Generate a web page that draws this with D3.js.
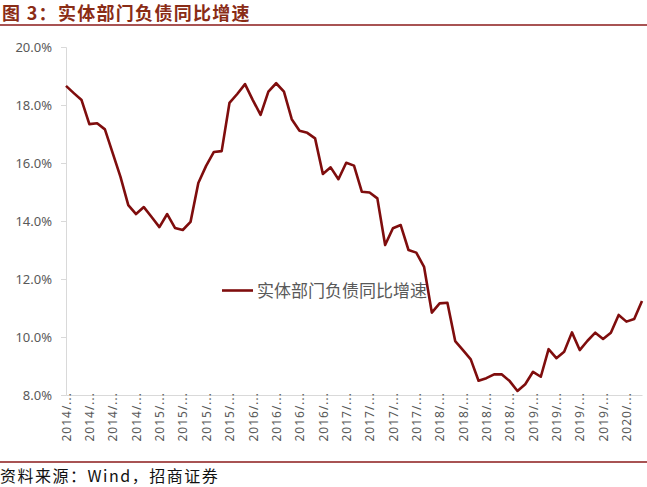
<!DOCTYPE html>
<html>
<head>
<meta charset="utf-8">
<script src="https://cdn.jsdelivr.net/npm/d3@7"></script>
<style>
  body { margin: 0; background: #fff; }
  svg { display: block; }
</style>
</head>
<body>
<svg id="chart" width="647" height="487"></svg>
<script>
const titleText = "图 3：实体部门负债同比增速";
const sourceText = "资料来源：Wind，招商证券";
const seriesName = "实体部门负债同比增速";

const months = [
  "2014/01","2014/02","2014/03","2014/04","2014/05","2014/06","2014/07","2014/08","2014/09","2014/10","2014/11","2014/12",
  "2015/01","2015/02","2015/03","2015/04","2015/05","2015/06","2015/07","2015/08","2015/09","2015/10","2015/11","2015/12",
  "2016/01","2016/02","2016/03","2016/04","2016/05","2016/06","2016/07","2016/08","2016/09","2016/10","2016/11","2016/12",
  "2017/01","2017/02","2017/03","2017/04","2017/05","2017/06","2017/07","2017/08","2017/09","2017/10","2017/11","2017/12",
  "2018/01","2018/02","2018/03","2018/04","2018/05","2018/06","2018/07","2018/08","2018/09","2018/10","2018/11","2018/12",
  "2019/01","2019/02","2019/03","2019/04","2019/05","2019/06","2019/07","2019/08","2019/09","2019/10","2019/11","2019/12",
  "2020/01","2020/02","2020/03"
];

const growth = [
  18.66, 18.41, 18.17, 17.34, 17.37, 17.16, 16.34, 15.52, 14.55, 14.24, 14.48, 14.14,
  13.79, 14.24, 13.76, 13.69, 13.97, 15.31, 15.90, 16.38, 16.41, 18.07, 18.38, 18.72,
  18.17, 17.66, 18.46, 18.75, 18.46, 17.51, 17.11, 17.04, 16.85, 15.62, 15.85, 15.44,
  16.01, 15.91, 15.01, 14.98, 14.78, 13.17, 13.75, 13.86, 13.00, 12.91, 12.42, 10.84,
  11.16, 11.18, 9.86, 9.55, 9.23, 8.49, 8.58, 8.71, 8.71, 8.48, 8.14, 8.37,
  8.80, 8.63, 9.58, 9.27, 9.49, 10.16, 9.55, 9.87, 10.15, 9.93, 10.15, 10.76,
  10.53, 10.62, 11.24
];

const yTicks = [8, 10, 12, 14, 16, 18, 20];

const svg = d3.select("#chart");
svg.append("rect").attr("width", 647).attr("height", 487).attr("fill", "#fff");

// Title
svg.append("text")
  .attr("x", 2).attr("y", 20)
  .attr("font-family", "'Noto Sans CJK SC', sans-serif")
  .attr("font-size", 18).attr("font-weight", "bold")
  .attr("fill", "#8a2c16")
  .attr("letter-spacing", 1.3)
  .text(titleText);
svg.append("line")
  .attr("x1", 0).attr("x2", 647).attr("y1", 25).attr("y2", 25)
  .attr("stroke", "#8b1a1a").attr("stroke-width", 1.3);

// Source
svg.append("line")
  .attr("x1", 0).attr("x2", 647).attr("y1", 462).attr("y2", 462)
  .attr("stroke", "#8b1a1a").attr("stroke-width", 1.3);
svg.append("text")
  .attr("x", 0).attr("y", 482)
  .attr("font-family", "'Noto Sans CJK SC', sans-serif")
  .attr("font-size", 16)
  .attr("letter-spacing", 1.5)
  .attr("fill", "#111")
  .text(sourceText);

// Scales
const x = d3.scalePoint().domain(months).range([66, 642]).padding(0);
const y = d3.scaleLinear().domain([8, 20]).range([395, 47]);

// Y axis
const yAxis = svg.append("g").attr("transform", "translate(66,0)")
  .call(d3.axisLeft(y).tickValues(yTicks).tickSize(5).tickPadding(9)
    .tickFormat(d => d.toFixed(1) + "%"));
yAxis.select(".domain").attr("stroke", "#d9d9d9");
yAxis.selectAll(".tick line").attr("stroke", "#d9d9d9");
yAxis.selectAll(".tick text")
  .attr("font-family", "'Noto Sans', sans-serif")
  .attr("font-size", 13).attr("fill", "#595959");

// X axis
const xAxis = svg.append("g").attr("transform", "translate(0,395)")
  .call(d3.axisBottom(x)
    .tickValues(months.filter((d, i) => i % 3 === 0))
    .tickSize(0)
    .tickFormat(d => d.slice(0, 5) + "..."));
xAxis.select(".domain").attr("stroke", "#d9d9d9");
xAxis.selectAll(".tick text")
  .attr("font-family", "'Noto Sans', sans-serif")
  .attr("font-size", 12).attr("fill", "#595959")
  .attr("letter-spacing", 1)
  .attr("transform", "rotate(-90)")
  .attr("text-anchor", "end")
  .attr("x", 3).attr("y", 0).attr("dy", "0.35em");

// Legend
svg.append("line")
  .attr("x1", 222).attr("x2", 253).attr("y1", 290.5).attr("y2", 290.5)
  .attr("stroke", "#7f0d0d").attr("stroke-width", 2.6);
svg.append("text")
  .attr("x", 257).attr("y", 296.5)
  .attr("font-family", "'Noto Sans CJK SC', sans-serif")
  .attr("font-size", 17).attr("fill", "#595959")
  .text(seriesName);

// Line
const line = d3.line()
  .x((d, i) => x(months[i]))
  .y(d => y(d));
svg.append("path")
  .datum(growth)
  .attr("fill", "none")
  .attr("stroke", "#7f0d0d")
  .attr("stroke-width", 2.6)
  .attr("stroke-linejoin", "round")
  .attr("d", line);
</script>
</body>
</html>
